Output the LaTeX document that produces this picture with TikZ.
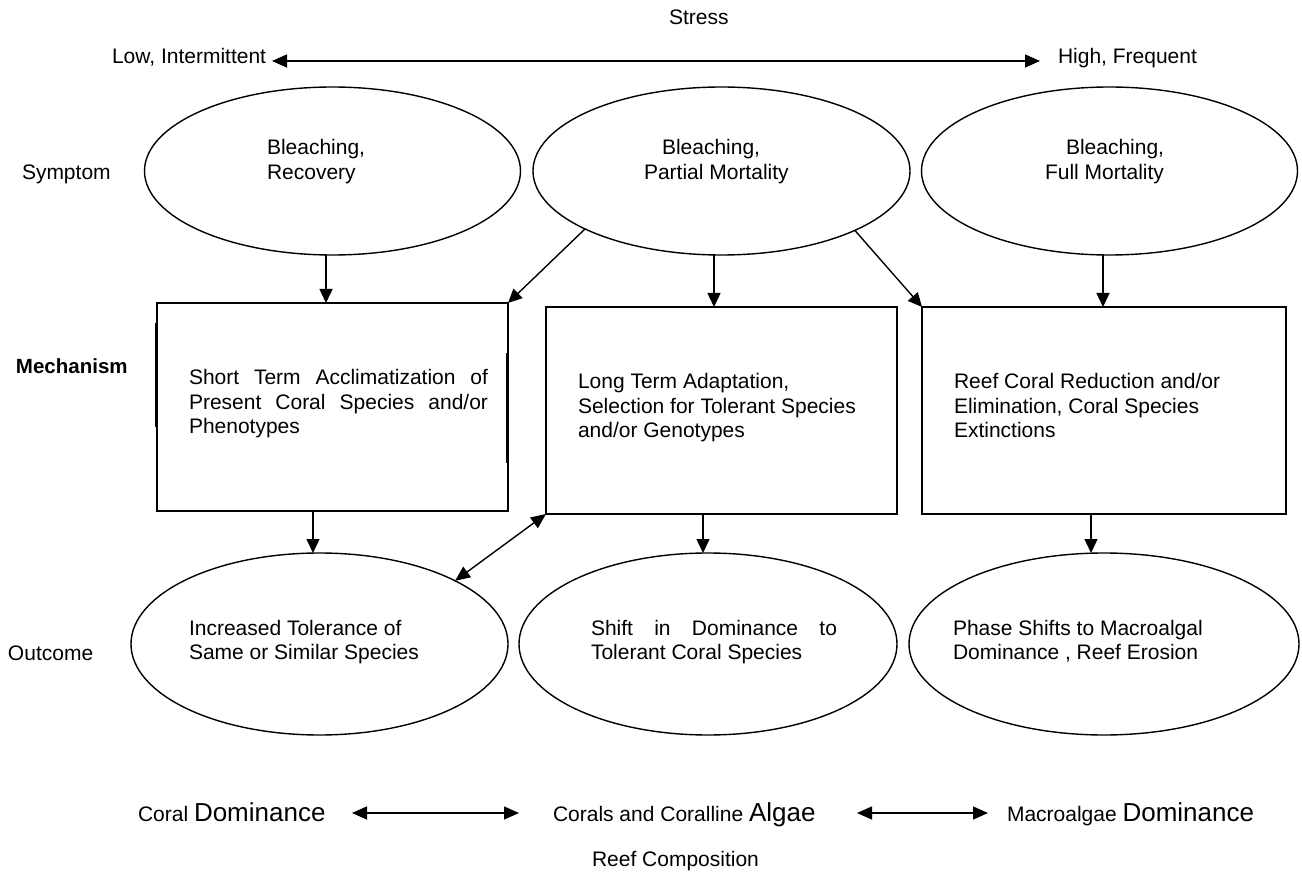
\documentclass[tikz,border=0pt]{standalone}
\usepackage{fontspec}
\setmainfont{Liberation Sans}
\usetikzlibrary{arrows.meta,shapes.geometric}
\newcommand\mytxt[2]{\parbox[t]{#1}{\fontsize{21}{24.5}\selectfont #2}}
\newcommand\bigw[1]{{\fontsize{26}{30}\selectfont #1}}
\begin{document}
\begin{tikzpicture}[x=1pt,y=-1pt,
  every node/.style={inner sep=0pt, outer sep=0pt, font=\fontsize{21}{25}\selectfont},
  lbl/.style={anchor=base west},
  shp/.style={draw, line width=1.4pt},
  oval/.style={shp, ellipse},
  boxn/.style={shp, rectangle},
  arr/.style={line width=1.4pt, -{Triangle[length=14pt,width=13pt]}},
  darr/.style={line width=1.4pt, {Triangle[length=15pt,width=13pt]}-{Triangle[length=15pt,width=13pt]}}
]
\useasboundingbox[fill=white] (0,0) rectangle (1302,874);

% header
\node[lbl] (stress) at (669,25) {Stress};
\node[lbl] (low) at (112,64) {Low, Intermittent};
\node[lbl] (high) at (1058,64) {High, Frequent};
\coordinate (ta) at (272,61);
\coordinate (tb) at (1040,61);
\draw[darr] (ta) -- (tb);

% row labels
\node[lbl] (symptom) at (22,180) {Symptom};
\node[lbl, font=\fontsize{20.5}{25}\selectfont\bfseries] (mech) at (16,374) {Mechanism};
\node[lbl] (outcome) at (8,660) {Outcome};

% symptom ellipses
\node[oval, minimum width=376pt, minimum height=168pt] (s1) at (332.5,171) {};
\node[oval, minimum width=377pt, minimum height=168pt] (s2) at (721.5,171) {};
\node[oval, minimum width=376pt, minimum height=168pt] (s3) at (1109.5,171) {};
\node[lbl] (s1a) at (267,155) {Bleaching,};
\node[lbl] (s1b) at (267,180) {Recovery};
\node[lbl] (s2a) at (662,155) {Bleaching,};
\node[lbl] (s2b) at (644,180) {Partial Mortality};
\node[lbl] (s3a) at (1066,155) {Bleaching,};
\node[lbl] (s3b) at (1045,180) {Full Mortality};

% mechanism boxes
\node[boxn, minimum width=351pt, minimum height=208pt] (b1) at (332.5,407) {};
\node[boxn, minimum width=351pt, minimum height=207pt] (b2) at (721.5,410.5) {};
\node[boxn, minimum width=364pt, minimum height=207pt] (b3) at (1104,410.5) {};
% thicker stretches on the sides of the first box
\coordinate (bl1) at (155.5,323);
\coordinate (bl2) at (155.5,427);
\coordinate (br1) at (506.5,353);
\coordinate (br2) at (506.5,463);
\draw[line width=1.4pt] (bl1) -- (bl2);
\draw[line width=1.4pt] (br1) -- (br2);
\node[lbl] (b1t) at (189,385) {\mytxt{299pt}{Short Term Acclimatization of\linebreak Present Coral Species and/or\linebreak Phenotypes}};
\node[lbl] (b2t) at (578,389) {\mytxt{320pt}{\raggedright Long Term Adaptation,\\Selection for Tolerant Species\\and/or Genotypes}};
\node[lbl] (b3t) at (954,389) {\mytxt{320pt}{\raggedright Reef Coral Reduction and/or\\Elimination, Coral Species\\Extinctions}};

% outcome ellipses
\node[oval, minimum width=377pt, minimum height=182pt] (o1) at (319.5,644) {};
\node[oval, minimum width=378pt, minimum height=182pt] (o2) at (708,644) {};
\node[oval, minimum width=390pt, minimum height=182pt] (o3) at (1104,644) {};
\node[lbl] (o1t) at (189,635) {\mytxt{300pt}{\raggedright Increased Tolerance of\\Same or Similar Species}};
\node[lbl] (o2t) at (591,635) {\mytxt{246pt}{Shift in Dominance to\linebreak Tolerant Coral Species}};
\node[lbl] (o3t) at (953,635) {\mytxt{300pt}{\raggedright Phase Shifts to Macroalgal\\Dominance , Reef Erosion}};

% arrow columns
\coordinate (x1) at (326,0);
\coordinate (x2) at (714,0);
\coordinate (x3) at (1103,0);
\coordinate (x4) at (313,0);
\coordinate (x5) at (703,0);
\coordinate (x6) at (1091,0);

\draw[arr] (s1.south -| x1) -- (b1.north -| x1);
\draw[arr] (s2.south -| x2) -- (b2.north -| x2);
\draw[arr] (s3.south -| x3) -- (b3.north -| x3);
\draw[arr] (s2.203.2) -- (b1.north east);
\draw[arr] (s2.336.6) -- (b3.north west);

\draw[arr] (b1.south -| x4) -- (o1.north -| x4);
\draw[arr] (b2.south -| x5) -- (o2.north -| x5);
\draw[arr] (b3.south -| x6) -- (o3.north -| x6);
\draw[darr] (b2.south west) -- (o1.25.5);

% reef composition
\node[lbl] (c1) at (138,821) {Coral \bigw{Dominance}};
\node[lbl] (c2) at (553,821) {Corals and Coralline \bigw{Algae}};
\node[lbl] (c3) at (1007,821) {Macroalgae \bigw{Dominance}};
\coordinate (r1) at (352,813);
\coordinate (r2) at (519,813);
\coordinate (r3) at (857,813);
\coordinate (r4) at (988,813);
\draw[darr] (r1) -- (r2);
\draw[darr] (r3) -- (r4);
\node[lbl] (reef) at (592,866) {Reef Composition};
\end{tikzpicture}
\end{document}
